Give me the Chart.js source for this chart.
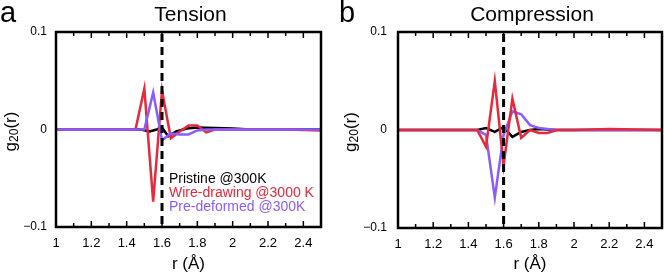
<!DOCTYPE html>
<html>
<head>
<meta charset="utf-8">
<script src="https://cdn.jsdelivr.net/npm/chart.js@4"></script>
<style>
  html, body { margin: 0; padding: 0; background: #fff; }
  #wrap { position: relative; width: 664px; height: 274px; }
  .panel { position: absolute; top: 0; width: 332px; height: 274px; }
</style>
</head>
<body>
<div id="wrap">
  <div class="panel" style="left:0"><canvas id="tension" width="332" height="274"></canvas></div>
  <div class="panel" style="left:332px"><canvas id="compression" width="332" height="274"></canvas></div>
</div>
<script>
// Values: r in Angstrom, g20(r)

// Tension panel
const tensionPristineR = [1.0, 1.48, 1.53, 1.57, 1.6, 1.635, 1.68, 1.74, 1.8, 2.0, 2.1, 2.5];
const tensionPristine  = [0, 0, -0.002, 0, 0.002, -0.007, -0.002, 0.001, 0.002, 0.001, 0, 0];
const tensionWireR = [1.0, 1.45, 1.5, 1.55, 1.6, 1.65, 1.7, 1.75, 1.8, 1.85, 1.9, 2.0, 2.3, 2.5];
const tensionWire  = [0, 0, 0.042, -0.074, 0.040, -0.009, -0.002, 0.004, 0.004, -0.003, 0, 0, 0, -0.001];
const tensionPreR = [1.0, 1.5, 1.55, 1.6, 1.65, 1.7, 1.75, 1.8, 1.85, 2.5];
const tensionPre  = [0, 0, 0.038, -0.011, -0.004, -0.005, -0.005, -0.001, 0, 0];

// Compression panel
const compPristineR = [1.0, 1.45, 1.5, 1.55, 1.6, 1.65, 1.7, 1.75, 1.8, 1.9, 2.5];
const compPristine  = [0, 0, 0.002, -0.002, 0.003, -0.007, -0.002, 0, 0.001, 0, 0];
const compPreR = [1.0, 1.45, 1.5, 1.55, 1.6, 1.65, 1.7, 1.75, 1.8, 1.85, 1.9, 2.5];
const compPre  = [0, 0, -0.005, -0.069, -0.005, 0.019, 0.016, 0.005, 0.002, 0.001, 0, 0];
const compWireR = [1.0, 1.45, 1.5, 1.55, 1.6, 1.65, 1.7, 1.75, 1.8, 1.85, 1.9, 2.0, 2.2, 2.5];
const compWire  = [0, 0, -0.017, 0.050, -0.036, 0.032, -0.008, 0, -0.003, -0.003, 0, 0, 0.001, 0];

// Axes
const xTicks = [1, 1.2, 1.4, 1.6, 1.8, 2, 2.2, 2.4];
const xMinorTicks = [1.1, 1.2, 1.3, 1.4, 1.5, 1.6, 1.7, 1.8, 1.9, 2.0, 2.1, 2.2, 2.3, 2.4];
const yTicks = [-0.1, 0, 0.1];
const markerR = 1.6;

const legendLabels = ['Pristine @300K', 'Wire-drawing @3000 K', 'Pre-deformed @300K'];

const BLACK = '#000000';
const RED = '#e8283c';
const PURPLE = '#8a5cff';
const FONT = "'Liberation Sans', Arial, sans-serif";

function pairs(rs, vs) {
    return rs.map((r, i) => ({ x: r, y: vs[i] }));
}

// order: lower number is drawn on top
function line(label, rs, vs, color, order) {
    return {
        label: label,
        data: pairs(rs, vs),
        borderColor: color,
        borderWidth: 2.5,
        pointRadius: 0,
        tension: 0,
        fill: false,
        order: order
    };
}

// "g" with subscript "20" then "(r)", centred on (0,0) in the current transform
function drawYTitle(ctx) {
    const big = '17px ' + FONT;
    const small = '12px ' + FONT;
    ctx.font = big;
    const wg = ctx.measureText('g').width;
    const wr = ctx.measureText('(r)').width;
    ctx.font = small;
    const ws = ctx.measureText('20').width;
    let x = -(wg + ws + wr) / 2;
    ctx.textAlign = 'left';
    ctx.font = big;
    ctx.fillText('g', x, 0);
    x += wg;
    ctx.font = small;
    ctx.fillText('20', x, 4);
    x += ws;
    ctx.font = big;
    ctx.fillText('(r)', x, 0);
}

// Draws frame, inward ticks, dashed marker and all the text
const decorPlugin = {
    id: 'decor',
    afterDatasetsDraw(chart, args, opts) {
        const ctx = chart.ctx;
        const a = chart.chartArea;
        const xs = chart.scales.x;

        ctx.save();
        // dashed vertical line
        const mx = xs.getPixelForValue(markerR);
        ctx.strokeStyle = BLACK;
        ctx.lineWidth = 3;
        ctx.setLineDash([8, 5]);
        ctx.beginPath();
        ctx.moveTo(mx, a.top + 2);
        ctx.lineTo(mx, a.bottom);
        ctx.stroke();
        ctx.setLineDash([]);

        // inward ticks top and bottom
        ctx.lineWidth = 1.5;
        xMinorTicks.forEach(v => {
            const px = xs.getPixelForValue(v);
            const len = xTicks.some(t => Math.abs(t - v) < 1e-6) ? 6 : 4;
            ctx.beginPath();
            ctx.moveTo(px, a.top);
            ctx.lineTo(px, a.top + len);
            ctx.moveTo(px, a.bottom);
            ctx.lineTo(px, a.bottom - len);
            ctx.stroke();
        });

        // frame
        ctx.lineWidth = 2.5;
        ctx.strokeRect(a.left, a.top, a.right - a.left, a.bottom - a.top);

        // panel letter and title
        ctx.fillStyle = BLACK;
        ctx.textBaseline = 'middle';
        ctx.textAlign = 'left';
        ctx.font = '29px ' + FONT;
        ctx.fillText(opts.letter, opts.letterX, 14);
        ctx.textAlign = 'center';
        ctx.font = '21px ' + FONT;
        ctx.fillText(opts.title, (a.left + a.right) / 2 + 2, 15);

        // x axis title
        ctx.font = '17px ' + FONT;
        ctx.fillText('r (Å)', (a.left + a.right) / 2, 264);

        // y axis title
        ctx.save();
        ctx.translate(opts.yTitleX, (a.top + a.bottom) / 2 + 2);
        ctx.rotate(-Math.PI / 2);
        drawYTitle(ctx);
        ctx.restore();

        // legend text (tension panel only)
        if (opts.legend) {
            const colors = [BLACK, RED, PURPLE];
            ctx.textAlign = 'left';
            ctx.font = '14px ' + FONT;
            legendLabels.forEach((t, i) => {
                ctx.fillStyle = colors[i];
                ctx.fillText(t, a.left + 113, 179 + i * 14.3);
            });
        }
        ctx.restore();
    }
};

function makeChart(id, datasets, o) {
    return new Chart(document.getElementById(id), {
        type: 'line',
        data: { datasets: datasets },
        plugins: [decorPlugin],
        options: {
            responsive: false,
            animation: false,
            layout: { padding: { top: 32, right: o.padRight, left: 0, bottom: 0 } },
            plugins: {
                legend: { display: false },
                tooltip: { enabled: false },
                decor: o
            },
            scales: {
                x: {
                    type: 'linear',
                    min: 1,
                    max: 2.5,
                    grid: { display: false, drawTicks: false },
                    border: { display: false },
                    afterFit: s => { s.height = o.xHeight; },
                    afterBuildTicks: s => { s.ticks = xTicks.map(v => ({ value: v })); },
                    ticks: {
                        padding: 9,
                        color: BLACK,
                        font: { family: FONT, size: 13 },
                        maxRotation: 0,
                        callback: v => String(Math.round(v * 10) / 10)
                    }
                },
                y: {
                    min: -0.1,
                    max: 0.1,
                    grid: { display: false, drawTicks: false },
                    border: { display: false },
                    afterFit: s => { s.width = o.yWidth; },
                    afterBuildTicks: s => { s.ticks = yTicks.map(v => ({ value: v })); },
                    ticks: {
                        padding: o.yPad,
                        color: BLACK,
                        font: { family: FONT, size: 12 },
                        callback: v => (v < 0 ? '−' : '') + String(Math.abs(Math.round(v * 10) / 10))
                    }
                }
            }
        }
    });
}

// tension: purple on top, then red, black underneath
makeChart('tension', [
    line(legendLabels[0], tensionPristineR, tensionPristine, BLACK, 3),
    line(legendLabels[1], tensionWireR, tensionWire, RED, 2),
    line(legendLabels[2], tensionPreR, tensionPre, PURPLE, 1)
], { letter: 'a', letterX: 0, title: 'Tension', yTitleX: 11, legend: true,
     padRight: 11, xHeight: 47, yWidth: 56, yPad: 9 });

// compression: red on top, then purple, black underneath
makeChart('compression', [
    line(legendLabels[0], compPristineR, compPristine, BLACK, 3),
    line(legendLabels[1], compWireR, compWire, RED, 1),
    line(legendLabels[2], compPreR, compPre, PURPLE, 2)
], { letter: 'b', letterX: 7, title: 'Compression', yTitleX: 19, legend: false,
     padRight: 2, xHeight: 46, yWidth: 66, yPad: 11 });
</script>
</body>
</html>
